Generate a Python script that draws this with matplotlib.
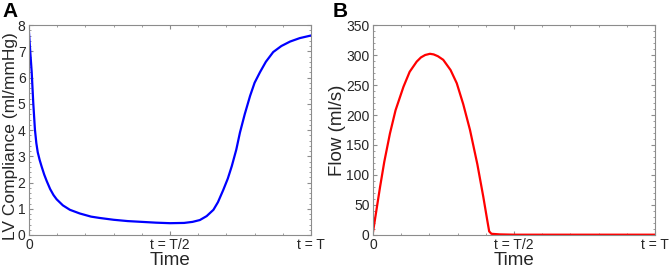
import numpy as np
import matplotlib
matplotlib.use('Agg')
import matplotlib.pyplot as plt
from matplotlib.ticker import MultipleLocator

plt.rcParams['font.family'] = ['Liberation Sans', 'DejaVu Sans']

# Panel A: LV compliance over one cycle (time as fraction of T)
t_comp = [0.0, 0.005, 0.0096, 0.015, 0.021, 0.026, 0.031, 0.038, 0.045, 0.054,
          0.063, 0.075, 0.087, 0.098, 0.12, 0.145, 0.18, 0.22, 0.25, 0.3,
          0.35, 0.4, 0.45, 0.5, 0.55, 0.58, 0.606, 0.63, 0.654, 0.67,
          0.689, 0.705, 0.719, 0.735, 0.748, 0.765, 0.784, 0.8, 0.819, 0.84,
          0.866, 0.895, 0.926, 0.96, 1.0]
compliance = [7.7, 6.9, 6.2, 5.05, 4.02, 3.5, 3.15, 2.85, 2.6, 2.3,
              2.05, 1.75, 1.52, 1.36, 1.13, 0.96, 0.82, 0.7, 0.65, 0.58,
              0.53, 0.5, 0.47, 0.45, 0.46, 0.5, 0.57, 0.72, 0.96, 1.25,
              1.72, 2.15, 2.62, 3.25, 3.9, 4.6, 5.3, 5.8, 6.2, 6.6,
              6.97, 7.2, 7.37, 7.5, 7.6]

# Panel B: flow
t_flow = [0.0, 0.01, 0.025, 0.04, 0.06, 0.08, 0.108, 0.13, 0.155, 0.17,
          0.185, 0.202, 0.215, 0.23, 0.249, 0.275, 0.297, 0.32, 0.344, 0.37,
          0.391, 0.405, 0.412, 0.42, 0.45, 0.5, 1.0]
flow = [5, 35, 80, 122, 169, 208, 247, 272, 289, 296,
        300, 302, 301, 298, 292, 275, 253, 218, 175, 118,
        64, 25, 6, 2, 1, 0.5, 0.5]

xtick_pos = [0, 0.5, 1]
xtick_labels = ['0', 't = T/2', 't = T']

W, H = 671, 274
fig = plt.figure(figsize=(W / 100, H / 100), dpi=100)
axA = fig.add_axes([29 / W, 39 / H, 282 / W, 210 / H])
axB = fig.add_axes([373 / W, 39 / H, 282 / W, 210 / H])

spine_col = '#8c8c8c'
text_col = '#262626'


def style(ax):
    for s in ax.spines.values():
        s.set_color(spine_col)
        s.set_linewidth(0.8)
    ax.set_xlim(0, 1)
    ax.set_xticks(xtick_pos)
    ax.set_xticklabels(xtick_labels)
    ax.xaxis.set_minor_locator(MultipleLocator(0.1))
    ax.tick_params(which='both', direction='in', top=True, right=True,
                   color=spine_col, labelcolor=text_col, labelsize=10, pad=2.5)
    ax.tick_params(which='major', length=3)
    ax.tick_params(which='minor', length=1.5)
    ax.set_xlabel('Time', fontsize=13.5, color=text_col, labelpad=0)


axA.plot(t_comp, compliance, color='#0000ff', lw=1.6)
style(axA)
axA.set_ylim(0, 8)
axA.yaxis.set_major_locator(MultipleLocator(1))
axA.yaxis.set_minor_locator(MultipleLocator(0.2))
axA.set_ylabel('LV Compliance (ml/mmHg)', fontsize=12.5, color=text_col)
axA.yaxis.set_label_coords(-0.04, 0.47)

axB.plot(t_flow, flow, color='#ff0000', lw=1.6)
style(axB)
axB.set_ylim(0, 350)
axB.yaxis.set_major_locator(MultipleLocator(50))
axB.yaxis.set_minor_locator(MultipleLocator(10))
axB.set_ylabel('Flow (ml/s)', fontsize=13.5, color=text_col, labelpad=0)

fig.text(2 / W, 1 - 2 / H, 'A', fontsize=15, fontweight='bold', va='top', ha='left')
fig.text(333 / W, 1 - 2 / H, 'B', fontsize=15, fontweight='bold', va='top', ha='left')

fig.savefig('out.png', dpi=100)
